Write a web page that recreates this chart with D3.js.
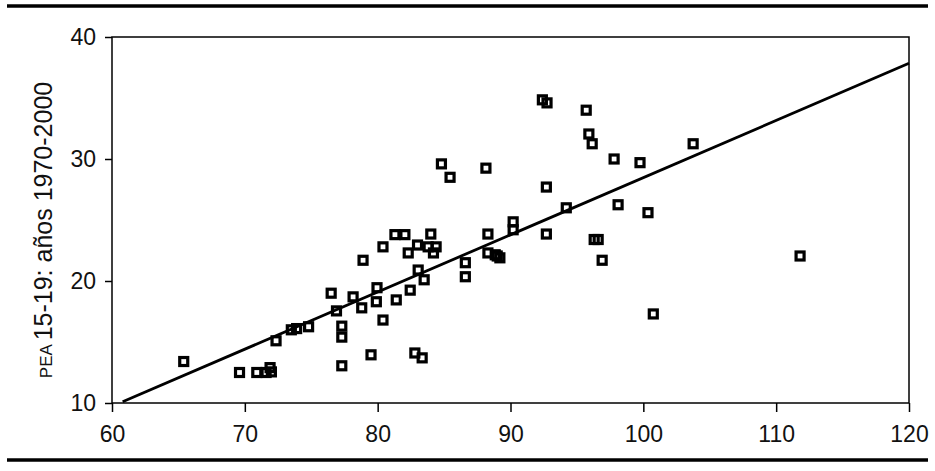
<!DOCTYPE html>
<html>
<head>
<meta charset="utf-8">
<script src="https://d3js.org/d3.v7.min.js"></script>
<style>
  body { margin: 0; background: white; }
  svg { font-family: "Liberation Sans", Arial, sans-serif; }
</style>
</head>
<body>
<svg width="935" height="471"></svg>
<script>
// x: indicator (60-120), y: PEA 15-19
var xVals = [65.4, 69.6, 70.9, 71.6, 71.9, 72.0, 72.35, 73.5, 73.9, 74.8,
             76.5, 76.9, 77.3, 77.3, 77.3, 78.15, 78.8, 78.9, 79.95, 79.9,
             80.4, 80.4, 79.5, 81.4, 81.3, 82.05, 82.45, 82.3, 83.0, 83.05,
             83.5, 84.0, 83.8, 84.4, 84.2, 82.8, 83.35, 86.6, 86.6, 88.3,
             88.3, 88.85, 89.2, 89.0, 84.8, 85.45, 88.15, 92.7, 94.2, 90.2,
             90.2, 92.7, 92.4, 92.75, 95.7, 95.9, 96.15, 97.8, 99.75, 103.75,
             98.1, 100.35, 96.3, 96.6, 96.9, 100.75, 111.8];
var yVals = [13.4, 12.5, 12.5, 12.5, 12.9, 12.55, 15.1, 16.0, 16.1, 16.25,
             19.0, 17.55, 16.3, 15.4, 13.05, 18.7, 17.8, 21.7, 19.45, 18.3,
             22.8, 16.8, 13.95, 18.45, 23.8, 23.8, 19.25, 22.3, 22.95, 20.9,
             20.1, 23.85, 22.8, 22.8, 22.3, 14.1, 13.7, 21.5, 20.35, 23.85,
             22.3, 22.15, 21.9, 22.05, 29.6, 28.5, 29.25, 27.7, 26.0, 24.85,
             24.2, 23.85, 34.85, 34.6, 34.0, 32.05, 31.25, 30.0, 29.7, 31.25,
             26.25, 25.6, 23.4, 23.4, 21.7, 17.3, 22.05];
var xTicks = [60, 70, 80, 90, 100, 110, 120];
var yTicks = [10, 20, 30, 40];
var fitLine = [[60.8, 10.1], [120, 37.85]];

var svg = d3.select("svg");
var x = d3.scaleLinear().domain([60, 120]).range([112, 909]);
var y = d3.scaleLinear().domain([10, 40]).range([403, 37]);

// rules above and below
svg.append("line").attr("x1", 7).attr("x2", 928).attr("y1", 6).attr("y2", 6)
  .attr("stroke", "black").attr("stroke-width", 3.5);
svg.append("line").attr("x1", 7).attr("x2", 928).attr("y1", 460).attr("y2", 460)
  .attr("stroke", "black").attr("stroke-width", 3.5);

// frame
svg.append("rect")
  .attr("x", x(60)).attr("y", y(40))
  .attr("width", x(120) - x(60)).attr("height", y(10) - y(40))
  .attr("fill", "none").attr("stroke", "black").attr("stroke-width", 1.5);

var gx = svg.append("g").attr("transform", "translate(0," + y(10) + ")")
  .call(d3.axisBottom(x).tickValues(xTicks).tickSize(9).tickPadding(14));
var gy = svg.append("g").attr("transform", "translate(" + x(60) + ",0)")
  .call(d3.axisLeft(y).tickValues(yTicks).tickSize(7).tickPadding(9));
[gx, gy].forEach(function(g) {
  g.select(".domain").remove();
  g.attr("font-size", 23).attr("font-family", "Liberation Sans, Arial, sans-serif");
  g.selectAll("line").attr("stroke", "black").attr("stroke-width", 1.5);
  g.selectAll("text").attr("fill", "#111");
});

// y title
svg.append("text")
  .attr("transform", "translate(52,230) rotate(-90)")
  .attr("text-anchor", "middle")
  .attr("font-size", 25).attr("fill", "#111")
  .call(function(t) {
    t.append("tspan").attr("font-size", 17).text("PEA ");
    t.append("tspan").text("15-19: años 1970-2000");
  });

// regression line
svg.append("path")
  .attr("d", d3.line().x(function(d){ return x(d[0]); }).y(function(d){ return y(d[1]); })(fitLine))
  .attr("fill", "none").attr("stroke", "black").attr("stroke-width", 2.8);

// points
var s = 8;
svg.append("g").selectAll("rect")
  .data(xVals)
  .enter()
  .append("rect")
  .attr("x", function(d){ return x(d) - s / 2; })
  .attr("y", function(d, i){ return y(yVals[i]) - s / 2; })
  .attr("width", s).attr("height", s)
  .attr("fill", "white").attr("fill-opacity", 0)
  .attr("stroke", "black").attr("stroke-width", 3.2);
</script>
</body>
</html>
